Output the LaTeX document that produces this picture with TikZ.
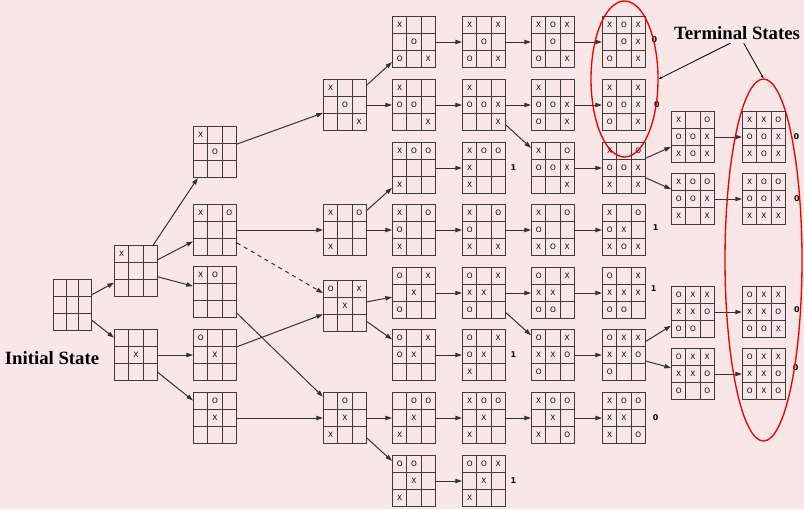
\documentclass[tikz,border=0pt]{standalone}
\usepackage{fontspec}
\usetikzlibrary{matrix,positioning,arrows.meta,shapes.geometric}
\newfontfamily\cellfont{DejaVu Sans}
\newfontfamily\titlefont{Liberation Serif}
\definecolor{bgpink}{RGB}{249,231,232}
\definecolor{gridgray}{RGB}{60,60,60}
\definecolor{ringred}{RGB}{240,0,0}

\begin{document}
\begin{tikzpicture}[x=0.3mm, y=-0.3mm,
    sq/.style={draw=gridgray, line width=0.35mm, minimum width=4.28mm, minimum height=5.08mm,
               inner sep=0pt, outer sep=0pt, anchor=center, font=\cellfont\fontsize{6.3}{7}\selectfont},
    board/.style={matrix of nodes, nodes in empty cells, inner sep=0pt, outer sep=0pt,
                  column sep=-0.35mm, row sep=-0.35mm, nodes={sq}},
    arr/.style={-{Triangle[length=2mm,width=1.3mm]}, line width=0.3mm, draw=black!80},
    score/.style={font=\cellfont\bfseries\fontsize{6.8}{7}\selectfont, inner sep=0pt},
    bigtext/.style={font=\titlefont\bfseries\fontsize{16}{18}\selectfont, inner sep=0pt},
    ring/.style={draw=ringred, line width=0.4mm, ellipse, inner sep=0pt}
]
    \useasboundingbox (0,0) rectangle (804,509);
    \fill[bgpink] (0,0) rectangle (804,509);

    % start and first move
    \matrix[board, nodes={minimum width=3.78mm}] (d0) at (72.5,305) { & & \\ & & \\ & & \\};
    \matrix[board] (d1a) at (136,271) {X & & \\ & & \\ & & \\};
    \matrix[board] (d1b) at (136,355) { & & \\ & X & \\ & & \\};

    % second move
    \matrix[board] (d2a) at (215,152) {X & & \\ & O & \\ & & \\};
    \matrix[board] (d2b) at (215,230) {X & & O \\ & & \\ & & \\};
    \matrix[board] (d2c) at (215,292) {X & O & \\ & & \\ & & \\};
    \matrix[board] (d2d) at (215,355) {O & & \\ & X & \\ & & \\};
    \matrix[board] (d2e) at (215,418) { & O & \\ & X & \\ & & \\};

    % third move
    \matrix[board] (d3a) at (345,105) {X & & \\ & O & \\ & & X \\};
    \matrix[board] (d3b) at (345,230) {X & & O \\ & & \\ X & & \\};
    \matrix[board] (d3c) at (345,306) {O & & X \\ & X & \\ & & \\};
    \matrix[board] (d3d) at (345,418) { & O & \\ & X & \\ X & & \\};

    % fourth move
    \matrix[board] (d4a) at (414,42) {X & & \\ & O & \\ O & & X \\};
    \matrix[board] (d4b) at (414,105) {X & & \\ O & O & \\ & & X \\};
    \matrix[board] (d4c) at (414,168) {X & O & O \\ & & \\ X & & \\};
    \matrix[board] (d4d) at (414,230) {X & & O \\ O & & \\ X & & \\};
    \matrix[board] (d4e) at (414,293) {O & & X \\ & X & \\ O & & \\};
    \matrix[board] (d4f) at (414,355) {O & & X \\ O & X & \\ & & \\};
    \matrix[board] (d4g) at (414,418) { & O & O \\ & X & \\ X & & \\};
    \matrix[board] (d4h) at (414,481) {O & O & \\ & X & \\ X & & \\};

    % fifth move
    \matrix[board] (d5a) at (484,42) {X & & X \\ & O & \\ O & & X \\};
    \matrix[board] (d5b) at (484,105) {X & & \\ O & O & X \\ & & X \\};
    \matrix[board] (d5c) at (484,168) {X & O & O \\ X & & \\ X & & \\};
    \matrix[board] (d5d) at (484,230) {X & & O \\ O & & \\ X & & X \\};
    \matrix[board] (d5e) at (484,293) {O & & X \\ X & X & \\ O & & \\};
    \matrix[board] (d5f) at (484,355) {O & & X \\ O & X & \\ X & & \\};
    \matrix[board] (d5g) at (484,418) {X & O & O \\ & X & \\ X & & \\};
    \matrix[board] (d5h) at (484,481) {O & O & X \\ & X & \\ X & & \\};

    % sixth move
    \matrix[board] (d6a) at (553,42) {X & O & X \\ & O & \\ O & & X \\};
    \matrix[board] (d6b) at (553,105) {X & & \\ O & O & X \\ O & & X \\};
    \matrix[board] (d6c) at (553,168) {X & & O \\ O & O & X \\ & & X \\};
    \matrix[board] (d6d) at (553,230) {X & & O \\ O & & \\ X & O & X \\};
    \matrix[board] (d6e) at (553,293) {O & & X \\ X & X & \\ O & O & \\};
    \matrix[board] (d6f) at (553,355) {O & & X \\ X & X & O \\ O & & \\};
    \matrix[board] (d6g) at (553,418) {X & O & O \\ & X & \\ X & & O \\};

    % seventh move
    \matrix[board] (d7a) at (624,42) {X & O & X \\ & O & X \\ O & & X \\};
    \matrix[board] (d7b) at (624,105) {X & & X \\ O & O & X \\ O & & X \\};
    \matrix[board] (d7c) at (624,168) {X & & O \\ O & O & X \\ X & & X \\};
    \matrix[board] (d7d) at (624,230) {X & & O \\ O & X & \\ X & O & X \\};
    \matrix[board] (d7e) at (624,293) {O & & X \\ X & X & X \\ O & O & \\};
    \matrix[board] (d7f) at (624,355) {O & X & X \\ X & X & O \\ O & & \\};
    \matrix[board] (d7g) at (624,418) {X & O & O \\ X & X & \\ X & & O \\};

    % eighth and ninth move
    \matrix[board] (d8a) at (693,137) {X & & O \\ O & O & X \\ X & O & X \\};
    \matrix[board] (d8b) at (693,199) {X & O & O \\ O & O & X \\ X & & X \\};
    \matrix[board] (d8c) at (693,312) {O & X & X \\ X & X & O \\ O & O & \\};
    \matrix[board] (d8d) at (693,374) {O & X & X \\ X & X & O \\ O & & O \\};
    \matrix[board] (d9a) at (764,137) {X & X & O \\ O & O & X \\ X & O & X \\};
    \matrix[board] (d9b) at (764,199) {X & O & O \\ O & O & X \\ X & X & X \\};
    \matrix[board] (d9c) at (764,312) {O & X & X \\ X & X & O \\ O & O & X \\};
    \matrix[board] (d9d) at (764,374) {O & X & X \\ X & X & O \\ O & X & O \\};

    % moves
    \draw[arr] (d0) -- (d1a);
    \draw[arr] (d0) -- (d1b);
    \draw[arr] (d1a) -- (d2a);
    \draw[arr] (d1a) -- (d2b);
    \draw[arr] (d1a) -- (d2c);
    \draw[arr] (d1b) -- (d2d);
    \draw[arr] (d1b) -- (d2e);
    \draw[arr] (d2a) -- (d3a);
    \draw[arr] (d2b) -- (d3b);
    \draw[arr, dash pattern=on 1.2mm off 1.2mm] (d2b) -- (d3c);
    \draw[arr] (d2c) -- (d3d);
    \draw[arr] (d2d) -- (d3c);
    \draw[arr] (d2e) -- (d3d);
    \draw[arr] (d3a) -- (d4a);
    \draw[arr] (d3a) -- (d4b);
    \draw[arr] (d3b) -- (d4c);
    \draw[arr] (d3b) -- (d4d);
    \draw[arr] (d3c) -- (d4e);
    \draw[arr] (d3c) -- (d4f);
    \draw[arr] (d3d) -- (d4g);
    \draw[arr] (d3d) -- (d4h);
    \foreach \r in {a,b,c,d,e,f,g,h}
        \draw[arr] (d4\r) -- (d5\r);
    \foreach \r in {a,b,d,e,g}
        \draw[arr] (d5\r) -- (d6\r);
    \draw[arr] (d5b) -- (d6c);
    \draw[arr] (d5e) -- (d6f);
    \foreach \r in {a,b,c,d,e,f,g}
        \draw[arr] (d6\r) -- (d7\r);
    \draw[arr] (d7c) -- (d8a);
    \draw[arr] (d7c) -- (d8b);
    \draw[arr] (d7f) -- (d8c);
    \draw[arr] (d7f) -- (d8d);
    \foreach \r in {a,b,c,d}
        \draw[arr] (d8\r) -- (d9\r);

    % outcomes
    \node[score, right=1.3mm of d5c] (v5c) {1};
    \node[score, right=1.3mm of d5f] (v5f) {1};
    \node[score, right=1.3mm of d5h] (v5h) {1};
    \node[score, right=1.6mm of d7a, yshift=0.6mm] (v7a) {0};
    \node[score, right=2.4mm of d7b] (v7b) {0};
    \node[score, right=2mm of d7d, yshift=0.6mm] (v7d) {1};
    \node[score, right=1.4mm of d7e, yshift=1.2mm] (v7e) {1};
    \node[score, right=2mm of d7g] (v7g) {0};
    \node[score, right=2.2mm of d9a] (v9a) {0};
    \node[score, right=2.4mm of d9b] (v9b) {0};
    \node[score, right=2.4mm of d9c, yshift=0.6mm] (v9c) {0};
    \node[score, right=2mm of d9d, yshift=1.8mm] (v9d) {0};

    % labels
    \node[bigtext] (init) at (52,358) {Initial State};
    \node[bigtext] (term) at (737,33) {Terminal States};
    \node[ring, minimum width=20.1mm, minimum height=46.8mm] (ring1) at (624.5,79) {};
    \node[ring, minimum width=23.1mm, minimum height=108.6mm] (ring2) at (763.5,260) {};
    \draw[-{Stealth[length=1mm]}, line width=0.25mm] ([xshift=-2mm,yshift=-1mm]term.south) -- (ring1.east);
    \draw[-{Stealth[length=1mm]}, line width=0.25mm] ([xshift=2mm,yshift=-1mm]term.south) -- (ring2.north);
\end{tikzpicture}
\end{document}
